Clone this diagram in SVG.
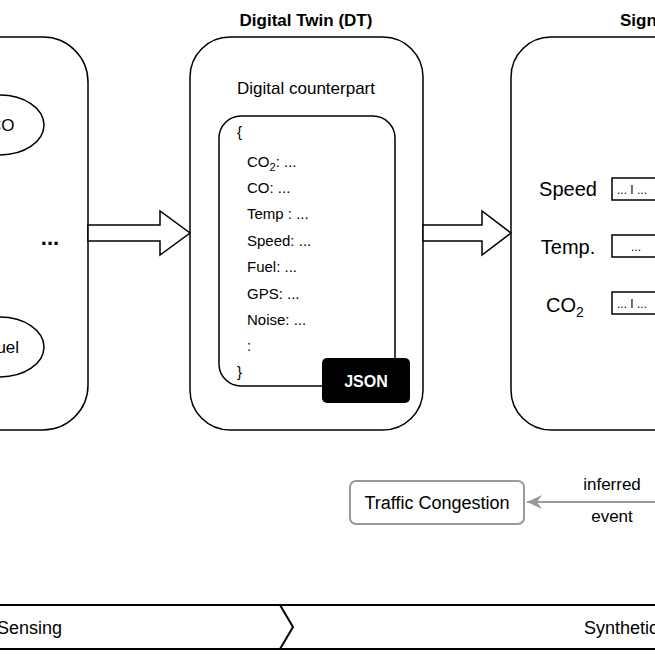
<svg xmlns="http://www.w3.org/2000/svg" width="655" height="655" viewBox="0 0 655 655">
<style>
text{font-family:"Liberation Sans",Arial,sans-serif;fill:#000}
.p{fill:#fff;stroke:#000;stroke-width:1.5}
.t{font-size:17px}
.s{font-size:15px}
.g{fill:#fff;stroke:#999;stroke-width:2}
</style>
<defs><marker id="ah" markerWidth="16" markerHeight="14" refX="15" refY="7" orient="auto" markerUnits="userSpaceOnUse"><path d="M0,0 L15,7 L0,14 L5,7 Z" fill="#999"/></marker></defs>
<g id="physical">
<rect class="p" x="-60" y="37" width="148" height="393" rx="45"/>
<ellipse class="p" cx="0" cy="125" rx="44" ry="30"/>
<text class="t" x="-11" y="131">CO</text>
<ellipse class="p" cx="0" cy="347" rx="44" ry="30"/>
<text class="t" x="-14" y="353">Fuel</text>
<text x="50" y="245" font-size="22" font-weight="bold" text-anchor="middle">...</text>
</g>
<g id="dt">
<text x="306" y="26" font-size="17" font-weight="bold" text-anchor="middle">Digital Twin (DT)</text>
<rect class="p" x="190" y="37" width="233" height="393" rx="40"/>
<text class="t" x="306" y="94" text-anchor="middle">Digital counterpart</text>
<rect class="p" x="219" y="116" width="176" height="270" rx="22"/>
<g class="s">
<text x="237" y="137">{</text>
<text x="247" y="167">CO<tspan font-size="11" dy="4">2</tspan><tspan dy="-4">: ...</tspan></text>
<text x="247" y="193">CO: ...</text>
<text x="247" y="219">Temp : ...</text>
<text x="247" y="246">Speed: ...</text>
<text x="247" y="272">Fuel: ...</text>
<text x="247" y="299">GPS: ...</text>
<text x="247" y="325">Noise: ...</text>
<text x="247" y="351">:</text>
<text x="237" y="377">}</text>
</g>
<rect x="322" y="358" width="88" height="45" rx="5" fill="#000"/>
<text x="366" y="387" font-size="16" font-weight="bold" text-anchor="middle" style="fill:#fff">JSON</text>
</g>
<g id="signal">
<text x="620" y="26" font-size="17" font-weight="bold">Signal</text>
<rect class="p" x="511" y="37" width="200" height="393" rx="40"/>
<text x="568" y="196" font-size="20" text-anchor="middle">Speed</text>
<rect class="p" x="612" y="178" width="60" height="22"/>
<text x="617" y="194" font-size="12">... I ...</text>
<text x="568" y="254" font-size="20" text-anchor="middle">Temp.</text>
<rect class="p" x="612" y="235" width="60" height="22"/>
<text x="636" y="251" font-size="12" text-anchor="middle">...</text>
<text x="565" y="312" font-size="20" text-anchor="middle">CO<tspan font-size="14" dy="5">2</tspan></text>
<rect class="p" x="612" y="292" width="60" height="22"/>
<text x="617" y="308" font-size="12">... I ...</text>
</g>
<g id="traffic">
<rect class="g" x="350" y="481" width="174" height="43" rx="6"/>
<text x="437" y="509" font-size="18" text-anchor="middle">Traffic Congestion</text>
</g>
<g id="connectors">
<path class="p" d="M88,225 H160 V211 L190,233 L160,255 V241 H88 Z"/>
<path class="p" d="M423,225 H482 V211 L511,233 L482,255 V241 H423 Z"/>
<line x1="655" y1="502" x2="527" y2="502" stroke="#999" stroke-width="2" marker-end="url(#ah)"/>
<text x="612" y="490" font-size="17" text-anchor="middle">inferred</text>
<text x="612" y="522" font-size="17" text-anchor="middle">event</text>
</g>
<g id="phases">
<path d="M-5,605 H280 L293,627 L280,649 H-5" fill="#fff" stroke="#000" stroke-width="2"/>
<path d="M280,605 H660 M280,649 H660" fill="none" stroke="#000" stroke-width="2"/>
<text x="-3" y="634" font-size="18">Sensing</text>
<text x="584" y="634" font-size="18">Synthetic</text>
</g>
</svg>
